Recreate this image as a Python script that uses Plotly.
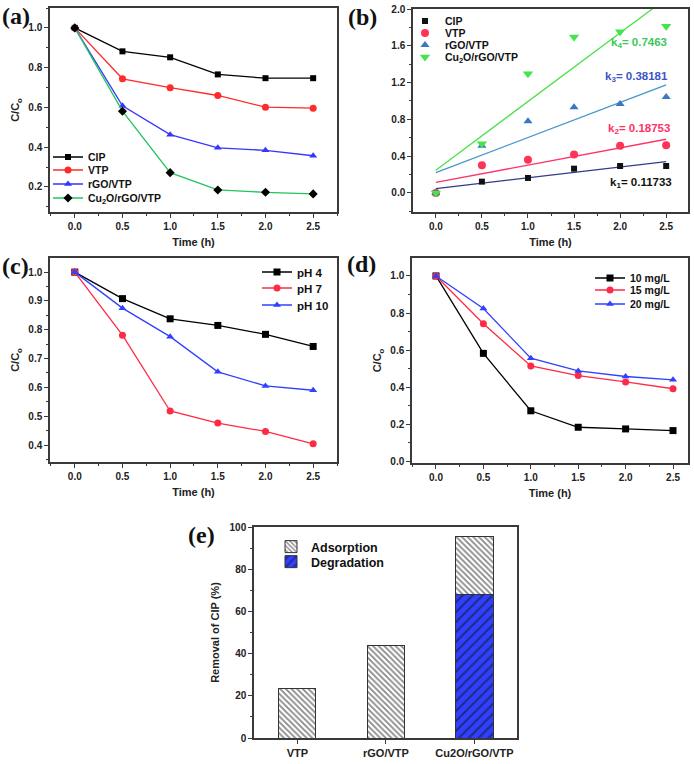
import plotly.graph_objects as go

# ---------------- data ----------------
time_h = [0.0, 0.5, 1.0, 1.5, 2.0, 2.5]

# (a) C/C0 for catalysts
a_cip = [1.0, 0.882, 0.852, 0.766, 0.747, 0.747]
a_vtp = [1.0, 0.744, 0.699, 0.660, 0.601, 0.596]
a_rgo = [1.0, 0.608, 0.463, 0.397, 0.384, 0.357]
a_cu2o = [1.0, 0.581, 0.272, 0.185, 0.173, 0.165]

# (b) -ln(C/C0) kinetics points
b_cip = [0.0, 0.123, 0.163, 0.264, 0.293, 0.293]
b_vtp = [0.0, 0.300, 0.362, 0.417, 0.514, 0.518]
b_rgo = [0.0, 0.514, 0.779, 0.931, 0.967, 1.043]
b_cu2o = [0.0, 0.536, 1.297, 1.696, 1.754, 1.812]
# linear fits: slopes (k) and intercepts
fit_k = [0.11733, 0.18753, 0.38181, 0.7463]
fit_b = [0.047, 0.115, 0.221, 0.248]
fit_x = [0.0, 2.5]
k_labels = ["k<sub>1</sub>= 0.11733", "k<sub>2</sub>= 0.18753",
            "k<sub>3</sub>= 0.38181", "k<sub>4</sub>= 0.7463"]

# (c) effect of pH
c_ph4 = [1.0, 0.908, 0.838, 0.815, 0.784, 0.742]
c_ph7 = [1.0, 0.781, 0.518, 0.476, 0.447, 0.404]
c_ph10 = [1.0, 0.875, 0.776, 0.654, 0.605, 0.590]

# (d) effect of initial concentration
d_10 = [1.0, 0.582, 0.272, 0.183, 0.174, 0.165]
d_15 = [1.0, 0.742, 0.514, 0.462, 0.428, 0.391]
d_20 = [1.0, 0.824, 0.556, 0.487, 0.457, 0.439]

# (e) removal of CIP (%)
e_cats = ["VTP", "rGO/VTP", "Cu2O/rGO/VTP"]
e_degradation = [0, 0, 68.0]
e_adsorption = [23.5, 43.8, 27.5]

# ---------------- figure ----------------
W, H = 694, 764
fig = go.Figure()

FONT = "Liberation Sans, Arial, sans-serif"
AX = "#3a3a3a"


def px_x(a, b):
    return [a / W, b / W]


def px_y(top, bottom):
    return [1 - bottom / H, 1 - top / H]


def axis_common(**kw):
    d = dict(showline=True, linecolor=AX, linewidth=1.5, mirror=True,
             ticks="outside", ticklen=4, tickwidth=1.2, tickcolor=AX,
             showgrid=False, zeroline=False, automargin=False,
             tickfont=dict(family=FONT, size=10, color="#222", weight="bold"))
    d.update(kw)
    return d


def xtime(domain, anchor, rng):
    return axis_common(domain=domain, anchor=anchor, range=rng,
                       tickmode="linear", tick0=0, dtick=0.5, tickformat=".1f",
                       minor=dict(dtick=0.25, ticks="outside", ticklen=2.5, tickcolor=AX),
                       title=dict(text="Time (h)", standoff=8,
                                  font=dict(family=FONT, size=11, color="#222", weight="bold")))


def ycc(domain, anchor, rng, dtick, minor, title="C/C<sub>o</sub>"):
    return axis_common(domain=domain, anchor=anchor, range=rng,
                       tickmode="linear", tick0=0, dtick=dtick, tickformat=".1f",
                       minor=dict(dtick=minor, ticks="outside", ticklen=2.5, tickcolor=AX),
                       title=dict(text=title, standoff=6,
                                  font=dict(family=FONT, size=11, color="#222", weight="bold")))


dom = {
    "a": (px_x(50, 337), px_y(8, 212)),
    "b": (px_x(413, 688), px_y(9, 212)),
    "c": (px_x(50, 337), px_y(258, 462)),
    "d": (px_x(412, 688), px_y(258, 463)),
    "e": (px_x(254, 517), px_y(527, 738)),
}

# one legend per entry so the entries can sit as tightly as in the reference
legends = {}
_leg_count = [0]


def new_legend(xpx, ypx, size=10.5):
    _leg_count[0] += 1
    n = _leg_count[0]
    key = "legend" if n == 1 else f"legend{n}"
    legends[key] = dict(x=xpx / W, y=1 - ypx / H, xanchor="left", yanchor="middle",
                        bgcolor="rgba(0,0,0,0)", borderwidth=0, itemwidth=30,
                        font=dict(family=FONT, size=size, color="#111", weight="bold"))
    return key


# ----- (a) -----
line_series_a = [
    ("CIP", a_cip, "#000000", "square", "#000000", 6, 157),
    ("VTP", a_vtp, "#ff2a2a", "circle", "#ff2a2a", 7, 170),
    ("rGO/VTP", a_rgo, "#3535ff", "triangle-up", "#3535ff", 7, 184),
    ("Cu<sub>2</sub>O/rGO/VTP", a_cu2o, "#22c55e", "diamond", "#000000", 7, 198),
]
for name, ys, lc, sym, mc, ms, ly in line_series_a:
    fig.add_trace(go.Scatter(x=time_h, y=ys, name=name, mode="lines+markers",
                             line=dict(color=lc, width=1.3),
                             marker=dict(symbol=sym, color=mc, size=ms),
                             xaxis="x", yaxis="y", legend=new_legend(48, ly)))

# ----- (b) -----
pts_b = [
    ("CIP", b_cip, "#111111", "square", 6, 21),
    ("VTP", b_vtp, "#ff3355", "circle", 8, 33),
    ("rGO/VTP", b_rgo, "#3a78c0", "triangle-up", 8, 45),
    ("Cu<sub>2</sub>O/rGO/VTP", b_cu2o, "#44e44c", "triangle-down", 9, 57),
]
fit_colors = ["#2f3b8c", "#ff3366", "#4596c8", "#4ee04a"]
label_colors = ["#111111", "#ff3366", "#3d55c8", "#3cc85a"]
label_pos = [(2.23, 0.11), (2.21, 0.70), (2.18, 1.26), (2.2, 1.63)]

for i in range(len(pts_b)):
    fig.add_trace(go.Scatter(
        x=fit_x, y=[fit_b[i] + fit_k[i] * xv for xv in fit_x],
        mode="lines", line=dict(color=fit_colors[i], width=1.3),
        showlegend=False, xaxis="x2", yaxis="y2", hoverinfo="skip"))
for name, ys, c, sym, ms, ly in pts_b:
    fig.add_trace(go.Scatter(x=time_h, y=ys, name=name, mode="markers",
                             marker=dict(symbol=sym, color=c, size=ms),
                             xaxis="x2", yaxis="y2", legend=new_legend(405, ly)))
for i, txt in enumerate(k_labels):
    fig.add_annotation(x=label_pos[i][0], y=label_pos[i][1], xref="x2", yref="y2",
                       text=txt, showarrow=False,
                       font=dict(family=FONT, size=11.5, color=label_colors[i], weight="bold"))

# ----- (c) -----
for name, ys, c, sym, ly in [("pH 4", c_ph4, "#000000", "square", 272),
                             ("pH 7", c_ph7, "#ff2a45", "circle", 288),
                             ("pH 10", c_ph10, "#3040ff", "triangle-up", 305)]:
    fig.add_trace(go.Scatter(x=time_h, y=ys, name=name, mode="lines+markers",
                             line=dict(color=c, width=1.3),
                             marker=dict(symbol=sym, color=c, size=7),
                             xaxis="x3", yaxis="y3", legend=new_legend(257, ly, 11.5)))

# ----- (d) -----
for name, ys, c, sym, ly in [("10 mg/L", d_10, "#000000", "square", 278),
                             ("15 mg/L", d_15, "#ff2a45", "circle", 290),
                             ("20 mg/L", d_20, "#3040ff", "triangle-up", 304)]:
    fig.add_trace(go.Scatter(x=time_h, y=ys, name=name, mode="lines+markers",
                             line=dict(color=c, width=1.3),
                             marker=dict(symbol=sym, color=c, size=7),
                             xaxis="x4", yaxis="y4", legend=new_legend(590, ly)))

# ----- (e) -----
fig.add_trace(go.Bar(x=e_cats, y=e_degradation, name="Degradation", width=0.42,
                     marker=dict(color="#3040ff", line=dict(color="#333", width=1),
                                 pattern=dict(shape="/", fgcolor="#111", size=7,
                                              solidity=0.3, fillmode="overlay")),
                     xaxis="x5", yaxis="y5", legend=new_legend(271, 562, 12.5)))
fig.add_trace(go.Bar(x=e_cats, y=e_adsorption, name="Adsorption", width=0.42,
                     marker=dict(color="white", line=dict(color="#333", width=1),
                                 pattern=dict(shape="\\", fgcolor="#111", size=4,
                                              solidity=0.45, fillmode="overlay")),
                     xaxis="x5", yaxis="y5", legend=new_legend(271, 547, 12.5)))

fig.update_layout(
    template="none",
    width=W, height=H, margin=dict(l=0, r=0, t=0, b=0, autoexpand=False),
    paper_bgcolor="white", plot_bgcolor="white",
    barmode="stack", showlegend=True,
    xaxis=xtime(dom["a"][0], "y", [-0.26, 2.75]),
    yaxis=ycc(dom["a"][1], "x", [0.074, 1.10], 0.2, 0.1),
    xaxis2=xtime(dom["b"][0], "y2", [-0.248, 2.737]),
    yaxis2=ycc(dom["b"][1], "x2", [-0.207, 2.0], 0.4, 0.2, title=""),
    xaxis3=xtime(dom["c"][0], "y3", [-0.26, 2.75]),
    yaxis3=ycc(dom["c"][1], "x3", [0.341, 1.049], 0.1, 0.05),
    xaxis4=xtime(dom["d"][0], "y4", [-0.253, 2.658]),
    yaxis4=ycc(dom["d"][1], "x4", [-0.01, 1.097], 0.2, 0.1),
    xaxis5=axis_common(domain=dom["e"][0], anchor="y5", range=[-0.49, 2.48],
                       tickfont=dict(family=FONT, size=11, color="#222", weight="bold")),
    yaxis5=axis_common(domain=dom["e"][1], anchor="x5", range=[0, 100],
                       tickmode="linear", tick0=0, dtick=20,
                       minor=dict(dtick=10, ticks="outside", ticklen=2.5, tickcolor=AX),
                       title=dict(text="Removal of CIP (%)", standoff=8,
                                  font=dict(family=FONT, size=11, color="#222", weight="bold"))),
    **legends,
)

# panel labels
for txt, xp, yp in [("(a)", 0, 16), ("(b)", 346, 17), ("(c)", 0, 266),
                    ("(d)", 345, 264), ("(e)", 186, 535)]:
    fig.add_annotation(x=xp / W, y=1 - yp / H, xref="paper", yref="paper",
                       xanchor="left", yanchor="middle", showarrow=False, text=txt,
                       font=dict(family="Liberation Serif, Times New Roman, serif",
                                 size=24, color="#111", weight="bold"))

# remove the browser's default 8px body margin so the figure fills the window
fig.write_html("out.html",
               config={"displayModeBar": False},
               post_script="document.body.style.margin='0';document.body.style.overflow='hidden';")
